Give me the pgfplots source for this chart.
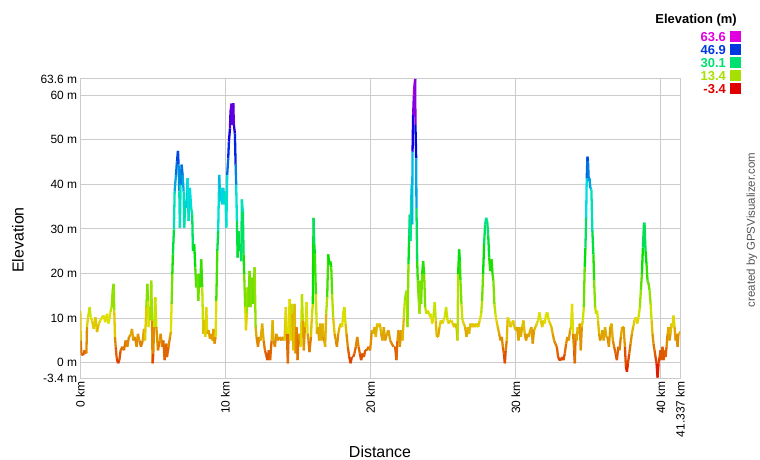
\documentclass[border=0pt]{standalone}
\usepackage{pgfplots}
\pgfplotsset{compat=1.18}
\usepackage{fontspec}
\setmainfont{Liberation Sans}
\definecolor{gridgray}{RGB}{204,204,204}
\definecolor{cA}{RGB}{224,0,224}
\definecolor{cB}{RGB}{0,56,224}
\definecolor{cC}{RGB}{0,224,112}
\definecolor{cD}{RGB}{167,224,0}
\definecolor{cE}{RGB}{224,0,0}
\definecolor{credit}{RGB}{85,85,85}
\begin{document}
\begin{tikzpicture}
\path[use as bounding box] (0,0) rectangle (760bp,460bp);
\begin{axis}[
  at={(80.3bp,82bp)}, anchor=south west,
  scale only axis, width=600bp, height=299bp,
  xmin=0, xmax=41.337, ymin=-3.4, ymax=63.6,
  xtick={0,10,20,30,40,41.337},
  xticklabels={0 km,10 km,20 km,30 km,40 km,41.337 km},
  ytick={-3.4,0,10,20,30,40,50,60,63.6},
  yticklabels={-3.4 m,0 m,10 m,20 m,30 m,40 m,50 m,60 m,63.6 m},
  x tick label style={rotate=90, anchor=east, font=\fontsize{12}{14}\selectfont, inner sep=3bp},
  y tick label style={font=\fontsize{12}{14}\selectfont, inner sep=3bp},
  major tick length=0pt,
  grid=major,
  grid style={draw=gridgray, line width=1bp},
  axis line style={draw=gridgray, line width=1bp},
  colormap={gps}{rgb255=(224,0,0) rgb255=(224,224,0) rgb255=(0,224,0) rgb255=(0,224,224) rgb255=(0,0,224) rgb255=(224,0,224)},
  point meta min=-3.4, point meta max=63.6,
]
\addplot[mesh, point meta=y, line width=2.3bp, line join=round] table {
x y
0.00 11.7
0.03 5.0
0.07 2.1
0.19 1.7
0.30 2.8
0.42 2.1
0.46 8.0
0.53 10.2
0.65 12.5
0.71 10.2
0.81 9.5
0.92 7.6
1.04 10.2
1.15 6.9
1.27 8.8
1.38 9.5
1.50 10.2
1.61 10.6
1.72 9.1
1.84 11.0
1.95 8.8
2.07 11.3
2.16 12.5
2.23 16.2
2.30 17.7
2.34 11.7
2.39 5.8
2.44 3.6
2.51 1.0
2.60 -0.1
2.69 0.6
2.78 2.8
2.90 3.6
3.01 2.8
3.12 5.0
3.24 3.6
3.35 5.8
3.47 6.2
3.56 7.6
3.65 5.0
3.77 5.8
3.88 3.6
3.97 6.5
4.07 5.0
4.18 3.6
4.30 5.0
4.39 7.6
4.46 5.0
4.55 12.5
4.62 17.7
4.66 13.9
4.71 8.0
4.75 12.5
4.82 9.5
4.89 18.4
4.94 9.5
4.98 -0.1
5.03 2.1
5.08 8.0
5.17 14.7
5.24 8.0
5.35 2.8
5.47 5.0
5.54 6.5
5.63 3.6
5.72 5.0
5.81 0.6
5.93 4.3
5.97 1.3
6.08 3.6
6.18 5.8
6.24 6.9
6.29 13.2
6.34 19.9
6.38 24.3
6.45 29.9
6.50 38.4
6.59 42.1
6.66 45.1
6.73 47.5
6.77 44.4
6.82 38.4
6.86 30.3
6.91 39.9
6.98 44.4
7.05 42.1
7.12 38.4
7.16 30.3
7.23 36.2
7.30 34.7
7.39 41.4
7.46 31.8
7.55 39.2
7.64 34.7
7.71 33.2
7.76 25.1
7.85 26.6
7.92 21.4
7.99 16.9
8.06 19.9
8.13 13.9
8.20 19.9
8.26 16.9
8.33 23.2
8.40 16.9
8.47 6.5
8.54 9.5
8.61 5.8
8.68 12.5
8.75 6.5
8.84 7.3
8.93 5.4
9.02 6.5
9.11 5.0
9.18 7.6
9.25 4.3
9.32 5.8
9.37 13.9
9.44 25.1
9.50 29.5
9.57 42.1
9.64 36.2
9.71 39.2
9.78 35.5
9.85 39.2
9.92 35.5
9.99 38.4
10.06 30.3
10.12 42.1
10.19 45.8
10.24 49.6
10.31 52.5
10.35 56.4
10.42 58.1
10.47 53.3
10.54 58.2
10.58 53.3
10.65 51.4
10.70 44.4
10.74 39.9
10.79 31.8
10.84 23.6
10.90 29.5
10.97 25.1
11.04 26.6
11.09 22.8
11.13 36.6
11.20 33.8
11.25 24.3
11.29 19.9
11.36 12.5
11.41 7.3
11.48 11.0
11.52 16.9
11.59 12.5
11.66 20.6
11.73 12.5
11.82 19.1
11.91 13.2
12.01 21.4
12.08 8.0
12.14 5.8
12.24 3.6
12.33 5.8
12.42 5.0
12.53 8.8
12.63 5.0
12.72 2.8
12.81 1.7
12.90 0.6
12.99 2.8
13.08 0.6
13.18 5.0
13.25 9.5
13.31 5.0
13.41 3.6
13.50 6.5
13.61 5.0
13.73 5.8
13.84 5.0
13.96 5.8
14.07 5.0
14.16 12.5
14.23 6.5
14.30 -0.1
14.35 6.5
14.42 14.3
14.49 5.0
14.55 13.2
14.62 11.0
14.69 2.8
14.76 13.2
14.83 2.1
14.90 8.0
14.97 0.6
15.04 6.5
15.13 5.0
15.20 3.6
15.27 15.4
15.33 9.5
15.40 2.8
15.47 8.0
15.54 9.5
15.59 13.6
15.66 6.5
15.72 5.0
15.79 2.4
15.89 5.8
15.95 10.2
16.02 13.2
16.07 32.5
16.12 26.6
16.16 24.3
16.23 15.4
16.30 6.5
16.37 8.0
16.46 5.0
16.53 8.8
16.62 5.0
16.69 8.8
16.78 5.8
16.87 3.6
16.94 11.0
17.01 14.7
17.08 24.3
17.15 22.0
17.22 22.8
17.29 21.4
17.35 15.4
17.42 10.2
17.52 6.5
17.61 5.0
17.68 3.6
17.77 6.5
17.86 8.0
17.95 8.8
18.04 8.0
18.13 11.7
18.20 12.5
18.27 8.8
18.34 6.5
18.43 3.6
18.53 1.3
18.62 -0.1
18.71 1.3
18.80 1.3
18.89 2.1
18.98 3.6
19.08 5.8
19.17 3.6
19.26 2.1
19.35 0.6
19.44 2.1
19.54 1.3
19.63 2.8
19.74 2.8
19.86 3.6
19.97 2.8
20.09 7.3
20.18 6.5
20.27 8.0
20.36 5.8
20.45 8.8
20.55 8.0
20.64 8.8
20.73 6.5
20.82 5.0
20.91 8.0
21.00 5.0
21.12 6.5
21.23 7.3
21.35 5.0
21.46 4.3
21.58 3.6
21.69 3.6
21.78 0.6
21.85 5.0
21.92 7.3
22.01 3.6
22.11 7.3
22.20 5.0
22.29 10.2
22.36 13.9
22.43 15.4
22.50 16.2
22.54 8.0
22.61 22.1
22.66 28.8
22.70 33.2
22.75 27.3
22.80 36.9
22.84 39.9
22.86 31.0
22.89 47.3
22.93 55.5
22.98 59.9
23.02 62.2
23.07 63.6
23.09 53.3
23.14 45.8
23.16 34.7
23.21 22.8
23.25 18.4
23.32 13.9
23.37 11.0
23.41 18.4
23.48 13.2
23.55 19.9
23.62 22.8
23.69 19.9
23.76 12.5
23.85 11.0
23.94 11.7
24.03 11.0
24.13 10.2
24.15 11.0
24.24 8.8
24.33 10.2
24.42 13.6
24.49 9.5
24.56 5.8
24.65 5.8
24.75 8.0
24.84 9.5
24.93 8.8
25.02 9.5
25.11 10.2
25.20 12.5
25.30 9.5
25.39 8.8
25.48 9.5
25.57 9.5
25.66 8.8
25.76 8.0
25.85 8.8
25.94 7.3
25.99 5.0
26.03 19.9
26.10 25.4
26.15 22.8
26.19 18.4
26.26 13.2
26.33 9.5
26.42 8.8
26.51 8.0
26.61 5.8
26.70 8.0
26.79 6.5
26.88 8.8
26.97 8.0
27.06 8.8
27.18 8.0
27.29 8.8
27.41 8.0
27.52 9.5
27.62 11.0
27.68 13.9
27.75 19.9
27.82 26.6
27.89 31.0
27.96 32.5
28.03 31.8
28.10 28.8
28.17 23.6
28.24 20.6
28.33 23.2
28.40 19.9
28.46 18.4
28.53 13.2
28.60 11.0
28.67 9.5
28.76 8.0
28.86 6.5
28.95 5.0
29.04 5.8
29.11 3.6
29.18 2.1
29.25 -0.1
29.31 2.8
29.38 5.0
29.45 10.2
29.54 9.5
29.64 8.0
29.73 8.8
29.82 9.5
29.91 8.0
30.00 7.3
30.09 8.0
30.19 5.0
30.25 8.0
30.35 5.8
30.44 8.0
30.53 9.5
30.62 6.5
30.71 5.0
30.81 6.5
30.90 5.8
30.99 7.3
31.08 8.0
31.17 4.3
31.26 7.3
31.36 8.0
31.45 8.8
31.54 9.5
31.63 11.3
31.72 9.5
31.82 8.0
31.91 9.5
32.00 8.8
32.09 11.0
32.18 11.3
32.27 9.5
32.37 8.8
32.46 8.0
32.55 6.5
32.64 5.0
32.73 4.3
32.83 3.6
32.92 1.3
33.01 0.6
33.10 0.6
33.19 1.3
33.29 0.6
33.38 2.1
33.47 4.3
33.56 5.8
33.65 5.0
33.74 7.3
33.81 8.0
33.88 13.2
33.95 6.5
34.02 2.8
34.07 -0.1
34.13 6.5
34.20 5.0
34.27 8.0
34.34 6.5
34.41 8.8
34.48 2.8
34.55 8.0
34.62 9.5
34.69 12.5
34.75 21.4
34.80 25.8
34.85 32.5
34.89 41.4
34.94 46.2
34.98 45.1
35.03 40.7
35.08 41.4
35.14 39.2
35.21 38.8
35.28 29.5
35.35 24.3
35.40 18.4
35.47 12.5
35.53 11.0
35.60 11.7
35.67 9.5
35.74 6.5
35.81 5.0
35.88 5.8
35.97 7.3
36.06 5.0
36.15 8.0
36.25 5.8
36.32 5.8
36.42 3.6
36.51 8.0
36.60 8.8
36.69 5.0
36.78 3.6
36.88 2.1
36.97 0.6
37.06 3.6
37.15 2.8
37.24 5.8
37.33 8.0
37.43 8.0
37.52 3.6
37.59 -0.9
37.66 -2.0
37.73 -0.1
37.82 2.1
37.91 4.3
38.00 6.5
38.09 8.0
38.18 9.5
38.28 10.2
38.37 8.8
38.46 10.2
38.55 12.5
38.62 16.2
38.69 19.9
38.76 25.8
38.83 31.0
38.87 31.4
38.94 25.1
39.01 22.1
39.08 18.4
39.15 17.7
39.22 16.2
39.29 13.2
39.36 9.5
39.42 6.5
39.49 4.3
39.56 2.8
39.63 1.3
39.70 -0.1
39.77 -3.3
39.84 -0.1
39.91 1.3
39.97 2.8
40.04 0.6
40.11 3.6
40.18 0.6
40.25 2.8
40.32 1.3
40.39 3.6
40.46 6.5
40.53 8.0
40.59 5.0
40.66 6.5
40.73 8.8
40.80 8.0
40.87 10.6
40.94 8.0
41.01 5.0
41.08 6.5
41.15 3.6
41.21 6.5
41.28 6.5
41.337 7.0
};
\end{axis}
% axis titles
\node[rotate=90, font=\fontsize{16}{18}\selectfont] at (18bp,220bp) {Elevation};
\node[font=\fontsize{16}{18}\selectfont] at (380bp,8bp) {Distance};
\node[rotate=90, font=\fontsize{11.5}{13}\selectfont, text=credit] at (752bp,230bp) {created by GPSVisualizer.com};
% colour key
\node[anchor=east, font=\bfseries\fontsize{13}{15}\selectfont, inner sep=0pt] at (737bp,440bp) {Elevation (m)};
\foreach \yy/\lab/\col in {423/63.6/cA, 410/46.9/cB, 397/30.1/cC, 384/13.4/cD, 371/-3.4/cE}{
  \node[anchor=east, font=\bfseries\fontsize{13}{15}\selectfont, text=\col, inner sep=0pt] at (726bp,\yy bp) {\lab};
  \fill[\col] (730bp,\yy bp-5.5bp) rectangle (741bp,\yy bp+5.5bp);
}
\end{tikzpicture}
\end{document}
